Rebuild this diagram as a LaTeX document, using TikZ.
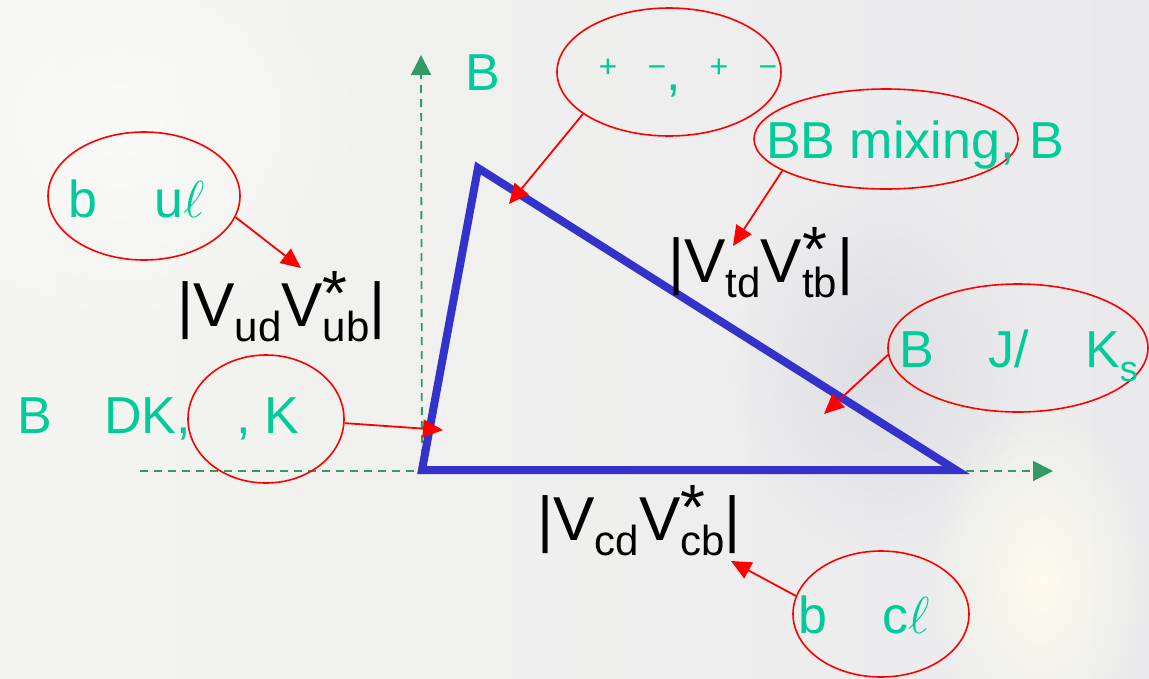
\RequirePackage{fix-cm}
\documentclass[tikz,border=0pt]{standalone}
\usepackage{fontspec}
\setmainfont{Liberation Sans}
\usetikzlibrary{shapes.geometric,arrows.meta,fadings}
\definecolor{txtgreen}{RGB}{0,204,153}
\definecolor{axgreen}{RGB}{51,153,102}
\definecolor{triblue}{RGB}{51,51,204}
\definecolor{bgA}{RGB}{244,244,240}
\definecolor{bgB}{RGB}{234,234,237}
\definecolor{bgY}{RGB}{253,252,236}
\definecolor{bgG}{RGB}{222,222,227}
\tikzfading[name=softblob, inner color=transparent!0, outer color=transparent!100]
\newcommand\ckmlab[2]{|V\raisebox{-15pt}{\fontsize{42}{46}\selectfont #1}V\makebox[0pt][l]{\raisebox{11pt}{\fontsize{64}{66}\selectfont *}}\raisebox{-15pt}{\fontsize{42}{46}\selectfont #2}|}
\begin{document}
\begin{tikzpicture}[x=1pt,y=-1pt,
  lbl/.style={anchor=base west, inner sep=0, text=txtgreen, font=\fontsize{52}{60}\selectfont},
  sgn/.style={anchor=base, inner sep=0, text=txtgreen, font=\fontsize{32}{36}\selectfont},
  ckm/.style={anchor=base west, inner sep=0, text=black, font=\fontsize{62}{70}\selectfont},
  oval/.style={ellipse, draw=red, line width=1.6pt, inner sep=0},
  ptr/.style={draw=red, line width=1.8pt, -{Triangle[length=20pt,width=18pt]}},
  axis/.style={draw=axgreen, line width=1.8pt, dash pattern=on 8pt off 6pt, -{Triangle[length=20pt,width=20pt]}},
  tri/.style={draw=triblue, line width=8pt, line join=miter}
]
\useasboundingbox (0,0) rectangle (1149,678);
% background
\shade[left color=bgA, right color=bgB] (0,0) rectangle (1149,678);
\fill[bgG, path fading=softblob] (880,370) ellipse (150 and 190);
\fill[bgY, path fading=softblob] (1040,580) ellipse (110 and 180);
\fill[white, opacity=0.6, path fading=softblob] (120,120) ellipse (260 and 220);

% axes
\coordinate (O) at (422,471);
\coordinate (xstart) at (140,471);
\coordinate (xend) at (1053,471);
\coordinate (yend) at (421,55);
\draw[axis] (O) -- (yend);
\draw[axis] (xstart) -- (xend);

% unitarity triangle
\coordinate (A) at (422,470);
\coordinate (T) at (478,168);
\coordinate (R) at (956,470);
\draw[tri] (A) -- (T) -- (R) -- cycle;

% CKM labels
\node[ckm] (Vub) at (177,326) {\ckmlab{ud}{ub}};
\node[ckm] (Vtb) at (668,282) {\ckmlab{td}{tb}};
\node[ckm] (Vcb) at (537,540) {\ckmlab{cd}{cb}};

% ellipses
\node[oval, minimum width=224pt, minimum height=128pt] (eBpp) at (669,72) {};
\node[oval, minimum width=264pt, minimum height=100pt] (eMix) at (886,139) {};
\node[oval, minimum width=192pt, minimum height=128pt] (eBu) at (144,196) {};
\node[oval, minimum width=156pt, minimum height=128pt] (eDK) at (266,419) {};
\node[oval, minimum width=260pt, minimum height=128pt] (eJpsi) at (1018,348) {};
\node[oval, minimum width=176pt, minimum height=126pt] (eBc) at (881,614) {};

% green texts
\node[lbl] (tB1) at (465,90) {B};
\node[sgn] (p1) at (608,77) {+};
\node[sgn] (m1) at (657,77) {−};
\node[lbl] (c1) at (666,90) {,};
\node[sgn] (p2) at (719,77) {+};
\node[sgn] (m2) at (768,77) {−};

\node[lbl] (tMix) at (766,158) {BB mixing, B};

\node[lbl] (tb1) at (68,217) {b};
\node[lbl] (tu) at (154,217) {u$\ell$};

\node[lbl] (tB2) at (17,433) {B};
\node[lbl] (tDK) at (104,433) {DK,};
\node[lbl] (c2) at (236,433) {,};
\node[lbl] (tK) at (264,433) {K};

\node[lbl] (tB3) at (899,367) {B};
\node[lbl] (tJ) at (988,367) {J/};
\node[lbl] (tKs) at (1085,367) {K\raisebox{-14pt}{\fontsize{36}{40}\selectfont s}};

\node[lbl] (tb2) at (798,633) {b};
\node[lbl] (tc) at (882,633) {c$\ell$};

% arrows
\coordinate (tipT) at (509,204);
\coordinate (tipMix) at (733,246);
\coordinate (tipU) at (301,268);
\coordinate (tipDK) at (443,430);
\coordinate (tipJ) at (824,414);
\coordinate (tipC) at (731,561);
\draw[ptr] (eBpp.206) -- (tipT);
\draw[ptr] (eMix.197) -- (tipMix);
\draw[ptr] (eBu.347) -- (tipU);
\draw[ptr] (eDK.357) -- (tipDK);
\draw[ptr] (eJpsi.183) -- (tipJ);
\draw[ptr] (eBc.168) -- (tipC);
\end{tikzpicture}
\end{document}
